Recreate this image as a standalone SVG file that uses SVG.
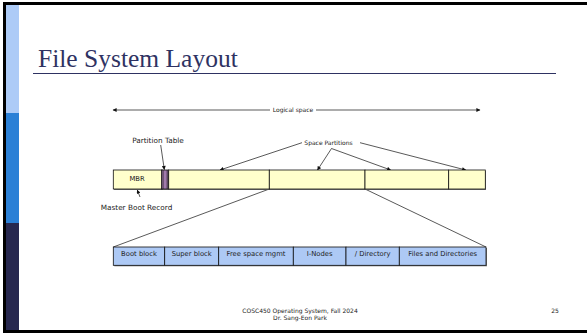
<svg xmlns="http://www.w3.org/2000/svg" width="587" height="333" viewBox="0 0 587 333">
<style>
.lbl{font-family:"DejaVu Sans",Verdana,sans-serif;fill:#222}
.sm{font-size:6px}
.md{font-size:6.8px}
.lg{font-size:7.3px}
.bar{fill:#ffffcc;stroke:#111;stroke-width:0.8}
.blk{fill:#adc9f5;stroke:#111;stroke-width:0.8}
.shd{fill:#777}
.ln{stroke:#111;stroke-width:0.7;fill:none}
</style>
<defs>
<marker id="ah" viewBox="0 0 10 10" refX="9" refY="5" markerWidth="5" markerHeight="4" orient="auto" markerUnits="userSpaceOnUse">
<path d="M0,0 L10,5 L0,10 z" fill="#111"/>
</marker>
</defs>
<rect width="587" height="333" fill="#fff"/>
<g id="frame">
<rect x="3" y="2" width="584" height="3" fill="#000"/>
<rect x="3" y="2" width="3" height="331" fill="#000"/>
<rect x="3" y="330" width="584" height="3" fill="#000"/>
<rect x="6" y="5" width="13" height="108" fill="#adcbf7"/>
<rect x="6" y="113" width="13" height="110" fill="#2b80d6"/>
<rect x="6" y="223" width="13" height="107" fill="#27284f"/>
</g>
<g id="title">
<text x="38" y="67" font-family="'Liberation Serif',serif" font-size="25.5" fill="#2e3262">File System Layout</text>
<line x1="33" y1="73.5" x2="556" y2="73.5" stroke="#2e3262" stroke-width="1"/>
</g>
<g id="connectors">
<line class="ln" x1="270" y1="110" x2="113" y2="110" marker-end="url(#ah)"/>
<line class="ln" x1="316" y1="110" x2="480" y2="110" marker-end="url(#ah)"/>
<line class="ln" x1="160.7" y1="145" x2="164.3" y2="169.5" marker-end="url(#ah)"/>
<line class="ln" x1="140" y1="197" x2="137.3" y2="190" marker-end="url(#ah)"/>
<line class="ln" x1="302" y1="142.7" x2="220" y2="170" marker-end="url(#ah)"/>
<line class="ln" x1="331.5" y1="148.5" x2="317.5" y2="170" marker-end="url(#ah)"/>
<line class="ln" x1="331.5" y1="148.5" x2="390.7" y2="170" marker-end="url(#ah)"/>
<line class="ln" x1="360" y1="142.7" x2="465.7" y2="170" marker-end="url(#ah)"/>
<line class="ln" x1="269.3" y1="189" x2="113.3" y2="247"/>
<line class="ln" x1="365" y1="189" x2="486" y2="247"/>
</g>
<g id="logical-space">
<text class="lbl sm" x="293" y="112" text-anchor="middle">Logical space</text>
</g>
<g id="partition-bar">
<rect class="shd" x="114" y="171" width="372" height="19"/>
<rect class="bar" x="113.3" y="170" width="49" height="19"/>
<rect x="161.5" y="170" width="7.2" height="19" fill="#a07aab" stroke="#111" stroke-width="0.8"/>
<line class="ln" x1="163" y1="170" x2="163" y2="189"/>
<line class="ln" x1="167.2" y1="170" x2="167.2" y2="189"/>
<rect class="bar" x="168.7" y="170" width="100.6" height="19"/>
<rect class="bar" x="269.3" y="170" width="95.7" height="19"/>
<rect class="bar" x="365" y="170" width="83.7" height="19"/>
<rect class="bar" x="448.7" y="170" width="36.6" height="19"/>
<text class="lbl md" x="137" y="180.5" text-anchor="middle">MBR</text>
</g>
<g id="partition-table-label">
<text class="lbl lg" x="158" y="142.5" text-anchor="middle">Partition Table</text>
</g>
<g id="mbr-label">
<text class="lbl lg" x="136.5" y="210" text-anchor="middle">Master Boot Record</text>
</g>
<g id="space-partitions-label">
<text class="lbl sm" x="328.5" y="145" text-anchor="middle">Space Partitions</text>
</g>
<g id="fs-blocks">
<rect class="shd" x="114.3" y="248" width="372.7" height="18.3"/>
<rect class="blk" x="113.3" y="247" width="51.4" height="18.3"/>
<rect class="blk" x="164.7" y="247" width="54" height="18.3"/>
<rect class="blk" x="218.7" y="247" width="74.6" height="18.3"/>
<rect class="blk" x="293.3" y="247" width="52.7" height="18.3"/>
<rect class="blk" x="346" y="247" width="53.3" height="18.3"/>
<rect class="blk" x="399.3" y="247" width="86.7" height="18.3"/>
<text class="lbl md" x="139" y="256" text-anchor="middle">Boot block</text>
<text class="lbl md" x="191.7" y="256" text-anchor="middle">Super block</text>
<text class="lbl md" x="256" y="256" text-anchor="middle">Free space mgmt</text>
<text class="lbl md" x="319.7" y="256" text-anchor="middle">I-Nodes</text>
<text class="lbl md" x="372.7" y="256" text-anchor="middle">/ Directory</text>
<text class="lbl md" x="442.7" y="256" text-anchor="middle">Files and Directories</text>
</g>
<g id="footer">
<text class="lbl" font-size="6" x="300" y="313" text-anchor="middle">COSC450 Operating System, Fall 2024</text>
<text class="lbl" font-size="6" x="300" y="320" text-anchor="middle">Dr. Sang-Eon Park</text>
<text class="lbl" font-size="6" x="555" y="313" text-anchor="middle">25</text>
</g>
</svg>
